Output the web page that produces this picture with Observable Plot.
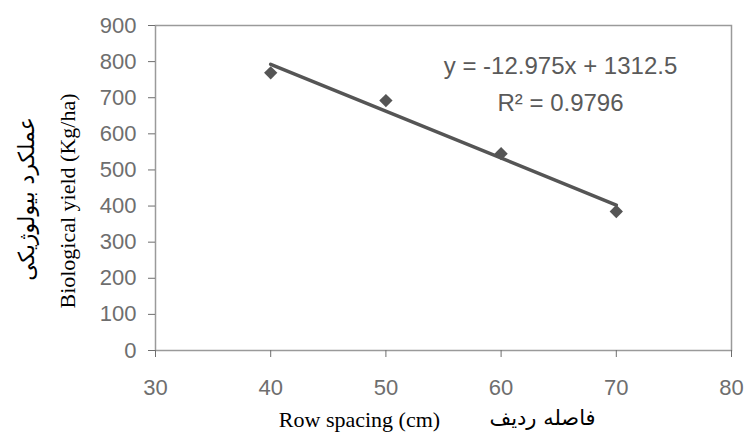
<!DOCTYPE html>
<html>
<head>
<meta charset="utf-8">
<script src="https://cdn.jsdelivr.net/npm/d3@7"></script>
<script src="https://cdn.jsdelivr.net/npm/@observablehq/plot@0.6"></script>
<style>
  html, body { margin: 0; padding: 0; background: #fff; }
</style>
</head>
<body>
<div id="chart"></div>
<script>
// Data
const rowSpacing = [40, 50, 60, 70];
const biologicalYield = [769, 692, 545, 385];
const xTicks = [30, 40, 50, 60, 70, 80];
const yTicks = [0, 100, 200, 300, 400, 500, 600, 700, 800, 900];
const equationText = "y = -12.975x + 1312.5";
const r2Text = "R² = 0.9796";
const xTitleEn = "Row spacing (cm)";
const xTitleFa = "فاصله ردیف";
const yTitleEn = "Biological yield (Kg/ha)";
const yTitleFa = "عملکرد بیولوژیکی";

const data = rowSpacing.map((x, i) => ({x, y: biologicalYield[i]}));

const sans = "Liberation Sans, Arial, sans-serif";
const serif = "Liberation Serif, Times New Roman, serif";

const chart = Plot.plot({
  width: 747,
  height: 442,
  marginLeft: 155,
  marginRight: 16,
  marginTop: 25,
  marginBottom: 92,
  style: {background: "#fff", fontFamily: sans},
  x: {domain: [30, 80]},
  y: {domain: [0, 900]},
  marks: [
    Plot.frame({stroke: "#9a9a9a", strokeWidth: 1.5}),
    Plot.axisX({ticks: xTicks, tickSize: 7, tickPadding: 22, label: null,
      color: "#6e6e6e", fontSize: 22, fontFamily: sans, tickFormat: d => String(d)}),
    Plot.axisY({ticks: yTicks, tickSize: 7, tickPadding: 12, label: null,
      color: "#6e6e6e", fontSize: 22, fontFamily: sans, tickFormat: d => String(d)}),
    Plot.linearRegressionY(data, {x: "x", y: "y", ci: 0, stroke: "#555", strokeWidth: 3.5}),
    Plot.dot(data, {x: "x", y: "y", symbol: "diamond2", r: 6, fill: "#555", stroke: "none"}),
    Plot.text([equationText], {frameAnchor: "top", dx: 117, dy: 31, text: d => d,
      fill: "#5a5a5a", fontSize: 24, fontFamily: sans}),
    Plot.text([r2Text], {frameAnchor: "top", dx: 117, dy: 68, text: d => d,
      fill: "#5a5a5a", fontSize: 24, fontFamily: sans}),
    Plot.text([xTitleEn], {frameAnchor: "bottom", dx: -84, dy: 76, text: d => d,
      fill: "#000", fontSize: 22, fontFamily: serif}),
    Plot.text([xTitleFa], {frameAnchor: "bottom", dx: 99, dy: 74, text: d => d,
      fill: "#000", fontSize: 21, fontFamily: "DejaVu Sans, sans-serif"}),
    Plot.text([yTitleEn], {frameAnchor: "left", textAnchor: "middle", dx: -88, dy: 13, rotate: -90, text: d => d,
      fill: "#000", fontSize: 22, fontFamily: serif}),
    Plot.text([yTitleFa], {frameAnchor: "left", textAnchor: "middle", dx: -129, dy: 11, rotate: -90, text: d => d,
      fill: "#000", fontSize: 22, fontFamily: "DejaVu Sans, sans-serif"})
  ]
});
document.getElementById("chart").appendChild(chart);
</script>
</body>
</html>
